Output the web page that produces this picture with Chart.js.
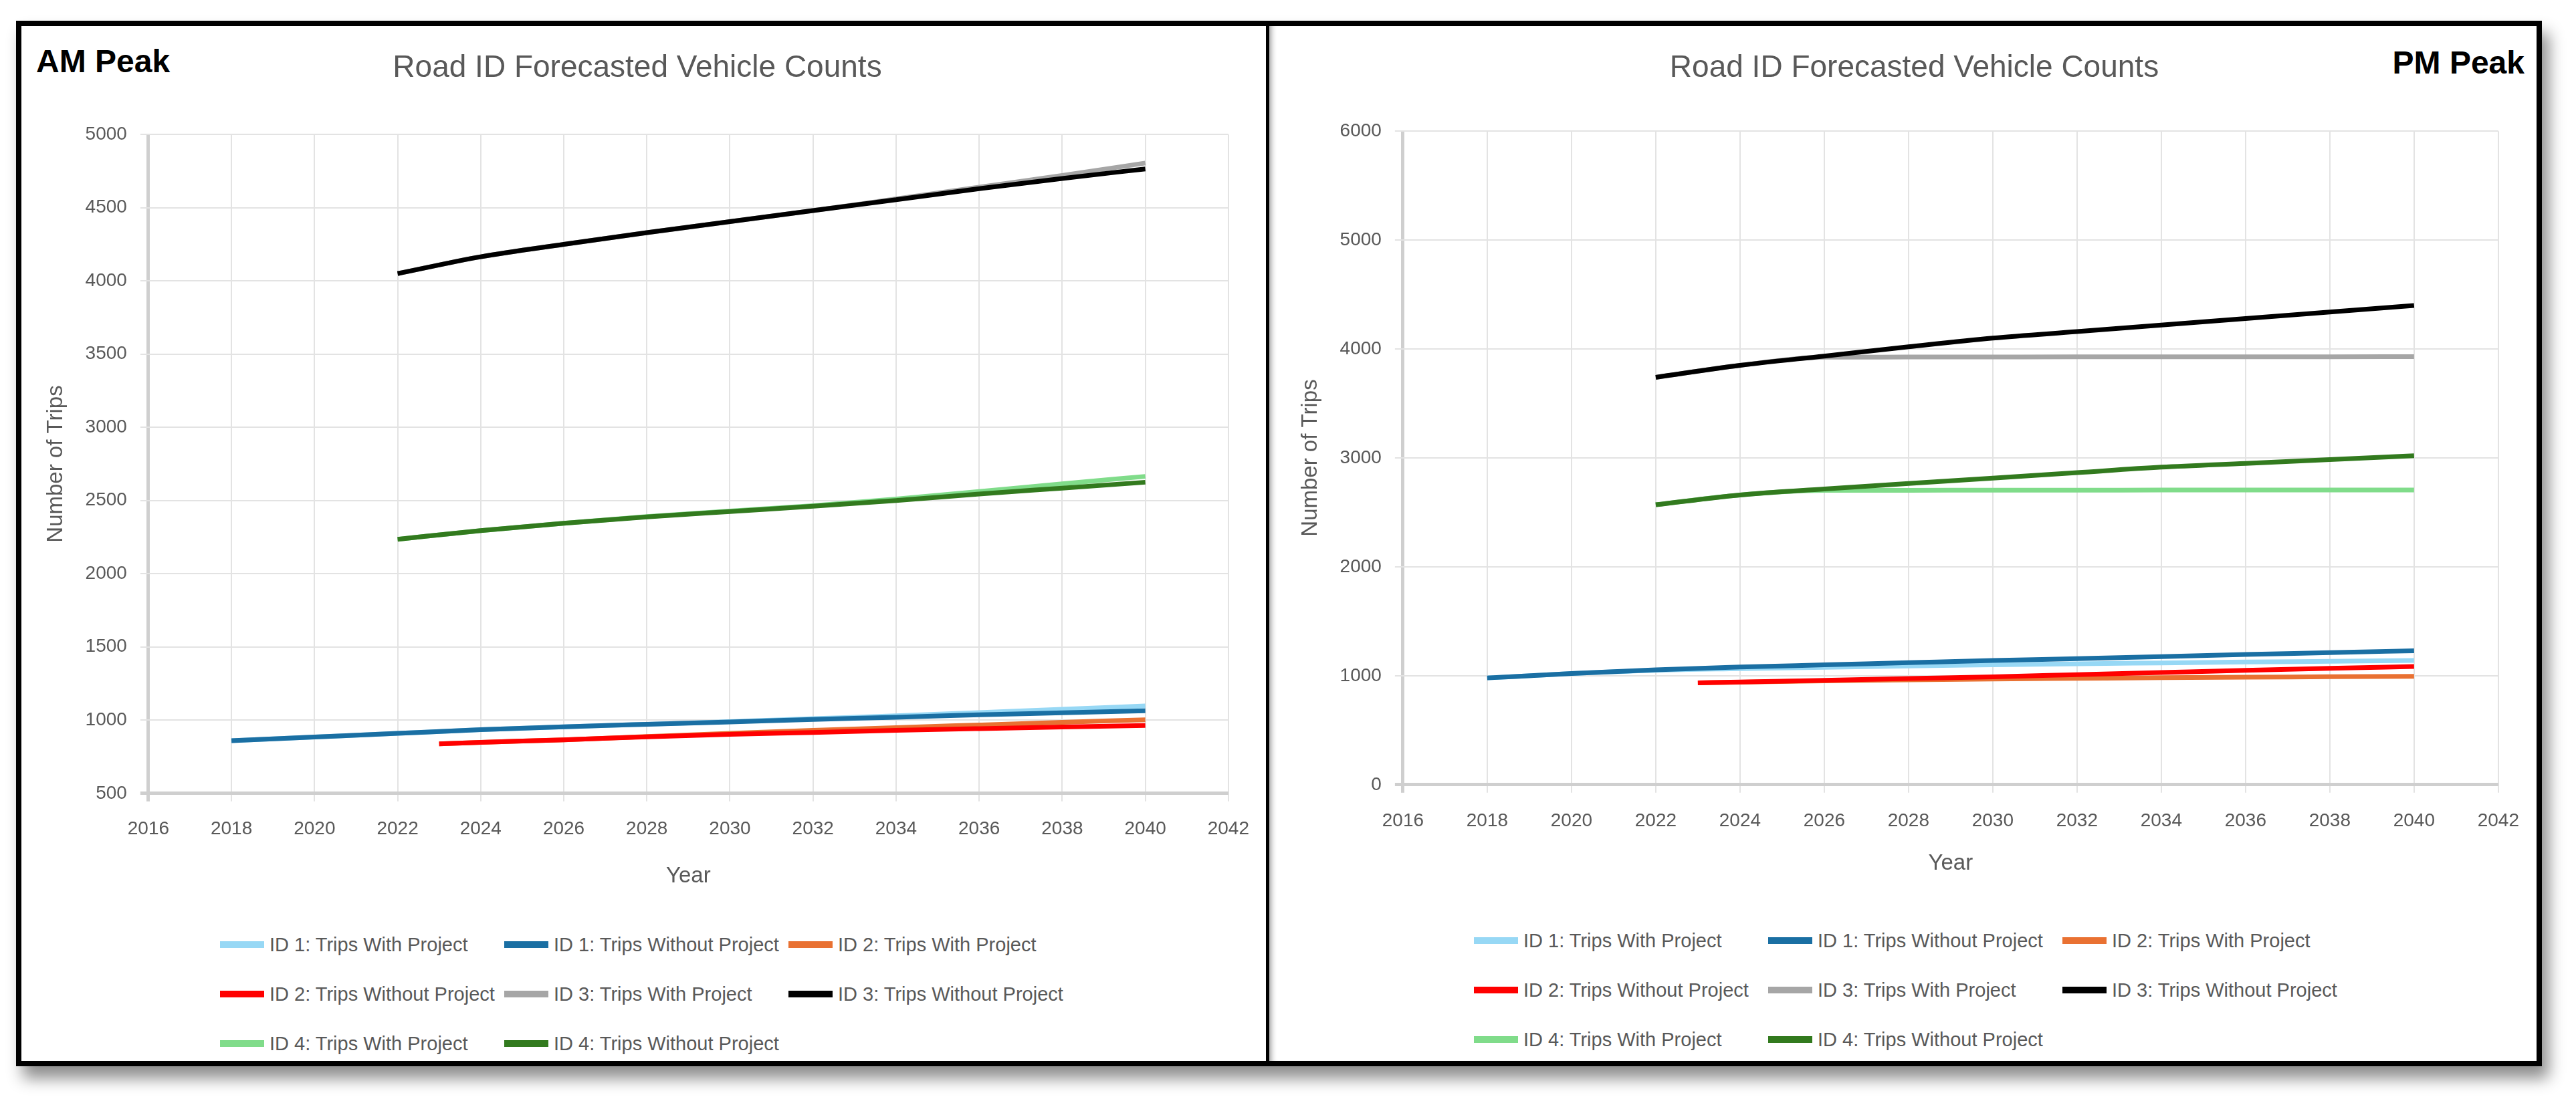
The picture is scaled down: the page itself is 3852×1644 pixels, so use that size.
<!DOCTYPE html>
<html>
<head>
<meta charset="utf-8">
<script src="https://cdn.jsdelivr.net/npm/chart.js@4.4.1/dist/chart.umd.min.js"></script>
<style>
  body { margin: 0; background: #fff; width: 3852px; height: 1644px; overflow: hidden; font-family: "Liberation Sans", Arial, sans-serif; }
  #frame { position: absolute; left: 24px; top: 31px; width: 3777px; height: 1564px; box-sizing: border-box; border: 8px solid #000; box-shadow: 10px 18px 22px rgba(0,0,0,0.45); background: #fff; }
  .panel { position: absolute; top: 0; height: 1548px; }
  #left { left: 0; width: 1861px; border-right: 5px solid #000; }
  #right { left: 1866px; width: 1895px; box-shadow: inset 10px 0 10px -8px rgba(0,0,0,0.45); }
  .peak { position: absolute; font: bold 48px "Liberation Sans", Arial, sans-serif; color: #000; line-height: 50px; }
  .chartbox { position: absolute; left: 0; top: 0; width: 100%; height: 1300px; }
  .legend { position: absolute; display: grid; }
  .item { display: flex; align-items: center; height: 74px; font-size: 29px; color: #595959; white-space: nowrap; }
  .swatch { width: 66px; height: 10px; margin-right: 8px; flex: none; }
</style>
</head>
<body>
<div id="frame">
  <div class="panel" id="left">
    <div class="peak" style="left:22px; top:28px;">AM Peak</div>
    <div class="chartbox"><canvas id="amChart"></canvas></div>
    <div class="legend" id="amLegend" style="left:297px; top:1337px; grid-template-columns: repeat(3, 425px);"></div>
  </div>
  <div class="panel" id="right">
    <div class="peak" style="right:18px; top:30px;">PM Peak</div>
    <div class="chartbox"><canvas id="pmChart"></canvas></div>
    <div class="legend" id="pmLegend" style="left:306px; top:1331px; grid-template-columns: repeat(3, 440px);"></div>
  </div>
</div>
<script>
// years shared by all series (null = no value that year)
const years = [2018, 2020, 2022, 2023, 2024, 2026, 2028, 2030, 2032, 2034, 2036, 2038, 2040];

const seriesNames = [
  "ID 1: Trips With Project", "ID 1: Trips Without Project", "ID 2: Trips With Project",
  "ID 2: Trips Without Project", "ID 3: Trips With Project", "ID 3: Trips Without Project",
  "ID 4: Trips With Project", "ID 4: Trips Without Project"
];
const seriesColors = ["#97d8f5", "#1a6fa3", "#e97132", "#ff0000", "#a6a6a6", "#000000", "#80dc8a", "#327a1e"];

// AM peak
const amId1With    = [860, 885, 910, null, 935, 955, 972, 990, 1010, 1030, 1052, 1074, 1097];
const amId1Without = [860, 885, 910, null, 935, 955, 972, 988, 1005, 1020, 1037, 1050, 1064];
const amId2With    = [null, null, null, 838, 848, 866, 888, 910, 930, 949, 967, 985, 1003];
const amId2Without = [null, null, null, 838, 848, 866, 886, 903, 916, 930, 942, 953, 964];
const amId3With    = [null, null, 4050, null, 4165, 4250, 4330, 4405, 4480, 4560, 4640, 4720, 4805];
const amId3Without = [null, null, 4050, null, 4165, 4250, 4330, 4405, 4480, 4555, 4630, 4700, 4765];
const amId4With    = [null, null, 2235, null, 2295, 2345, 2390, 2428, 2465, 2510, 2562, 2614, 2665];
const amId4Without = [null, null, 2235, null, 2295, 2345, 2388, 2425, 2461, 2500, 2545, 2585, 2625];

// PM peak
const pmId1With    = [980, 1020, 1050, null, 1065, 1078, 1090, 1100, 1110, 1118, 1126, 1133, 1140];
const pmId1Without = [980, 1020, 1055, null, 1080, 1100, 1120, 1140, 1157, 1175, 1195, 1212, 1230];
const pmId2With    = [null, null, null, 935, 941, 953, 962, 970, 976, 982, 987, 991, 995];
const pmId2Without = [null, null, null, 935, 942, 958, 975, 990, 1010, 1030, 1050, 1068, 1085];
const pmId3With    = [null, null, 3740, null, 3850, 3925, 3926, 3927, 3928, 3928, 3929, 3929, 3930];
const pmId3Without = [null, null, 3740, null, 3850, 3935, 4020, 4100, 4160, 4220, 4280, 4340, 4400];
const pmId4With    = [null, null, 2570, null, 2660, 2702, 2703, 2704, 2704, 2705, 2705, 2706, 2706];
const pmId4Without = [null, null, 2570, null, 2660, 2715, 2765, 2815, 2865, 2915, 2950, 2985, 3020];

const FONT = "'Liberation Sans', Arial, sans-serif";
const GREY = "#595959";

function makeChart(id, series, yMin, yMax, yStep, lay) {
  const datasets = series.map((vals, i) => ({
    label: seriesNames[i],
    data: years.map((yr, j) => ({ x: yr, y: vals[j] })),
    borderColor: seriesColors[i],
    backgroundColor: seriesColors[i],
    borderWidth: 7,
    pointRadius: 0,
    spanGaps: true,
    cubicInterpolationMode: "monotone",
    order: -i   // later series on top, like excel
  }));

  new Chart(document.getElementById(id), {
    type: "line",
    data: { datasets: datasets },
    options: {
      responsive: true,
      maintainAspectRatio: false,
      animation: false,
      layout: { padding: lay.padding },
      plugins: {
        legend: { display: false },
        tooltip: { enabled: false },
        title: {
          display: true,
          text: "Road ID Forecasted Vehicle Counts",
          color: GREY,
          font: { family: FONT, size: 46, weight: "normal" },
          padding: { top: 36, bottom: lay.titleBottom }
        }
      },
      scales: {
        x: {
          type: "linear",
          min: 2016, max: 2042,
          ticks: { stepSize: 2, color: GREY, font: { family: FONT, size: 28 }, padding: lay.xTickPad, maxRotation: 0, autoSkip: false, callback: v => String(v) },
          grid: { color: c => c.index === 0 ? "#cfcfcf" : "#e3e3e3", lineWidth: c => c.index === 0 ? 5 : 2, tickLength: 12 },
          border: { display: false },
          title: { display: true, text: "Year", color: GREY, font: { family: FONT, size: 33 }, padding: { top: lay.yearPad, bottom: 4 } }
        },
        y: {
          min: yMin, max: yMax,
          ticks: { stepSize: yStep, color: GREY, font: { family: FONT, size: 28 }, padding: 20, callback: v => String(v) },
          grid: { color: c => c.index === 0 ? "#cfcfcf" : "#e3e3e3", lineWidth: c => c.index === 0 ? 5 : 2, tickLength: 12 },
          border: { display: false },
          title: { display: true, text: "Number of Trips", color: GREY, font: { family: FONT, size: 33 }, padding: { top: 4, bottom: 4 } }
        }
      }
    }
  });
}

function makeLegend(id) {
  const box = document.getElementById(id);
  seriesNames.forEach((name, i) => {
    const item = document.createElement("div");
    item.className = "item";
    const sw = document.createElement("span");
    sw.className = "swatch";
    sw.style.background = seriesColors[i];
    item.appendChild(sw);
    item.appendChild(document.createTextNode(name));
    box.appendChild(item);
  });
}

makeChart("amChart",
  [amId1With, amId1Without, amId2With, amId2Without, amId3With, amId3Without, amId4With, amId4Without],
  500, 5000, 500,
  { padding: { left: 28, right: 47, top: 0, bottom: 4 }, titleBottom: 71, xTickPad: 25, yearPad: 9 });

makeChart("pmChart",
  [pmId1With, pmId1Without, pmId2With, pmId2Without, pmId3With, pmId3Without, pmId4With, pmId4Without],
  0, 6000, 1000,
  { padding: { left: 38, right: 4, top: 0, bottom: 23 }, titleBottom: 66, xTickPad: 26, yearPad: 1 });

makeLegend("amLegend");
makeLegend("pmLegend");
</script>
</body>
</html>
